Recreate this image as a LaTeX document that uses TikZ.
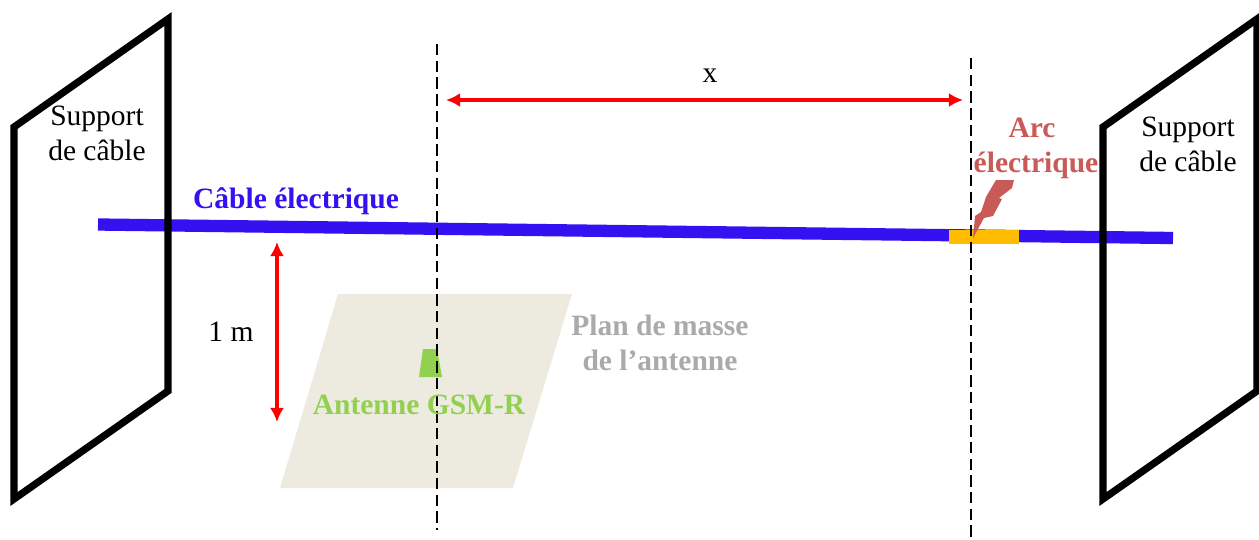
\documentclass[tikz,border=0pt]{standalone}
\usepackage{fontspec}
\setmainfont{Liberation Serif}
\usetikzlibrary{arrows.meta}
\definecolor{CableBlue}{RGB}{51,17,240}
\definecolor{ArcRed}{RGB}{200,90,88}
\definecolor{ArcOrange}{RGB}{255,188,0}
\definecolor{PlanBeige}{RGB}{237,235,224}
\definecolor{PlanGray}{RGB}{170,170,170}
\definecolor{AntGreen}{RGB}{146,208,80}
\tikzset{
  support/.style={line width=4.1pt, line join=miter},
  label/.style={font=\fontsize{16.8}{19.8}\selectfont, align=center, inner sep=0pt},
  boldlabel/.style={label, font=\fontsize{16.8}{19.8}\selectfont\bfseries},
  repere/.style={black, line width=0.85pt, dash pattern=on 6.5pt off 3pt},
  mesure/.style={red, line width=2pt, {Latex[length=8pt,width=8pt]}-{Latex[length=8pt,width=8pt]}}
}
\begin{document}
\begin{tikzpicture}[x=0.02cm,y=-0.02cm]
  \useasboundingbox (0,0) rectangle (1259,539);
  % plan de masse et antenne
  \fill[PlanBeige] (338,294)--(572,294)--(513,488)--(280,488)--cycle;
  \fill[AntGreen] (423,349)--(437,349)--(442,377)--(419,377)--cycle;
  % cable
  \coordinate (cableA) at (98,224.5);
  \coordinate (cableB) at (1173,238);
  \draw[CableBlue, line width=7pt] (cableA)--(cableB);
  \fill[ArcOrange] (949,230)--(1019,230)--(1019,243.5)--(949,243.5)--cycle;
  \fill[ArcRed] (996,180)--(1014,180)--(1012,188)--(999,198)--(1002,199)--(993,216)--(984,218)--(973,238)--(975,216)--(981,212)--(986,197)--cycle;
  % supports
  \draw[support] (14,127)--(168,19)--(168,391)--(14,499)--cycle;
  \draw[support] (1103,127)--(1257,19)--(1257,391)--(1103,499)--cycle;
  % reperes
  \coordinate (repA1) at (437,44);
  \coordinate (repA2) at (437,530);
  \coordinate (repB1) at (971,58);
  \coordinate (repB2) at (971,539);
  \draw[repere] (repA1)--(repA2);
  \draw[repere] (repB1)--(repB2);
  % cotes
  \coordinate (xA) at (446,100);
  \coordinate (xB) at (963,100);
  \coordinate (hA) at (277,242);
  \coordinate (hB) at (277,422);
  \draw[mesure] (xA)--(xB);
  \draw[mesure] (hA)--(hB);
  % textes
  \node[label] (supA) at (97,133.5) {Support\\de câble};
  \node[label] (supB) at (1188,144) {Support\\de câble};
  \node[label] (cote) at (710,75.5) {x};
  \node[label] (haut) at (231,332) {1 m};
  \node[boldlabel, CableBlue] (cable) at (296,201) {Câble électrique};
  \node[boldlabel, ArcRed] (arc) at (1036,148.5) {Arc\kern 4.5pt\\électrique};
  \node[boldlabel, PlanGray] (plan) at (660,342.5) {Plan de masse\\de l’antenne};
  \node[boldlabel, AntGreen] (ant) at (419,405) {Antenne GSM-R};
\end{tikzpicture}
\end{document}
